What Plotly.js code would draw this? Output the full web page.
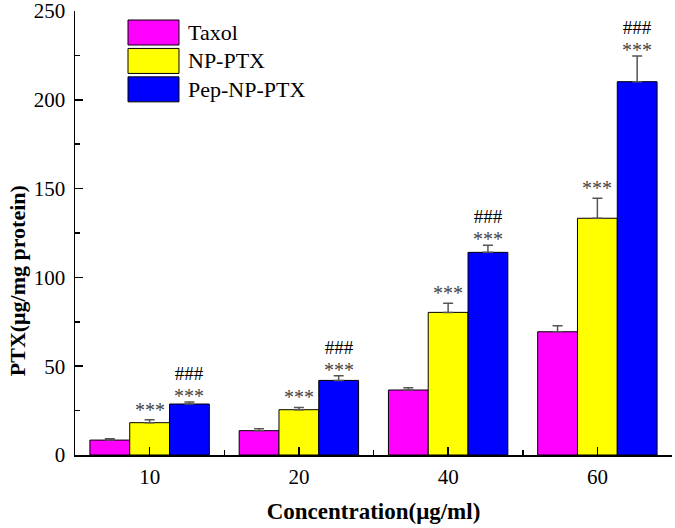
<!DOCTYPE html>
<html>
<head>
<meta charset="utf-8">
<script src="https://cdn.plot.ly/plotly-3.0.1.min.js"></script>
<style>html,body{margin:0;padding:0;background:#fff;}#chart{width:675px;height:528px;}</style>
</head>
<body>
<div id="chart"></div>
<script>
// ---- data ----
const categories = ["10", "20", "40", "60"];
const seriesNames = ["Taxol", "NP-PTX", "Pep-NP-PTX"];
const taxol = [8.4, 13.7, 36.6, 69.4];
const taxolErr = [0.8, 1.1, 1.3, 3.4];
const npPtx = [18.2, 25.5, 80.3, 133.3];
const npPtxErr = [1.7, 1.3, 5.1, 11.2];
const pepNpPtx = [28.7, 42.0, 114.1, 210.2];
const pepNpPtxErr = [1.1, 2.6, 4.0, 14.5];
const npPtxStars = ["***", "***", "***", "***"];
const pepStars = ["***", "***", "***", "***"];
const pepHashes = ["###", "###", "###", "###"];

// ---- styling ----
const FONT = '"Liberation Serif", "Times New Roman", serif';
const colors = ["#FF00FF", "#FFFF00", "#0000FF"];
const values = [taxol, npPtx, pepNpPtx];
const errs = [taxolErr, npPtxErr, pepNpPtxErr];
const xIdx = categories.map((c, i) => i);
const groupWidth = 0.8;
const barW = groupWidth / 3;

const traces = values.map((v, k) => ({
  type: "bar",
  name: seriesNames[k],
  x: xIdx,
  y: v,
  marker: { color: colors[k], line: { color: "#000", width: 1 } },
  error_y: { type: "data", array: errs[k], arrayminus: v.map(() => 0), symmetric: false,
             color: "#555", thickness: 1.5, width: 5 },
  hoverinfo: "skip"
}));

const annotations = [];
function starSpan(s) { return '<span style="font-size:20px;color:#444">' + s + '</span>'; }
function hashSpan(s) { return '<span style="font-size:19px;color:#000">' + s + '</span>'; }
function addMarks(k, hashes, stars, shift) {
  stars.forEach((s, i) => {
    const h = hashes ? hashes[i] : "";
    const text = (h ? hashSpan(h) + "<br>" : "") + starSpan(s);
    annotations.push({
      x: i + (k - 1) * barW, y: values[k][i] + errs[k][i], xref: "x", yref: "y",
      text: text, showarrow: false, yanchor: "bottom", yshift: shift,
      font: { family: FONT, size: 17.5, color: "#000" }
    });
  });
}
addMarks(1, null, npPtxStars, -3);
addMarks(2, pepHashes, pepStars, -7);

// legend drawn as shapes + annotations
const shapes = [];
const legTop = 0.9797, rowH = 0.0640, boxH = 0.0563;
seriesNames.forEach((n, k) => {
  const y1 = legTop - k * rowH;
  shapes.push({ type: "rect", xref: "paper", yref: "paper", x0: 0.0888, x1: 0.1742,
    y0: y1 - boxH, y1: y1, fillcolor: colors[k], line: { color: "#000", width: 1 } });
  annotations.push({ xref: "paper", yref: "paper", x: 0.186, y: y1 - boxH / 2,
    xanchor: "left", yanchor: "middle", showarrow: false, text: n,
    font: { family: FONT, size: 22, color: "#000" } });
});
// y-axis title
annotations.push({ xref: "paper", yref: "paper", x: -0.095, y: 0.392, textangle: -90,
  showarrow: false, xanchor: "center", yanchor: "middle",
  text: "<b>PTX(μg/mg protein)</b>", font: { family: FONT, size: 22, color: "#000" } });

const layout = {
  width: 675, height: 528,
  margin: { l: 75, r: 3, t: 11, b: 73 },
  paper_bgcolor: "#fff", plot_bgcolor: "#fff",
  showlegend: false,
  barmode: "group", bargap: 0.2, bargroupgap: 0,
  font: { family: FONT, color: "#000" },
  xaxis: {
    range: [-0.5, 3.5], tickvals: xIdx, ticktext: categories,
    ticks: "inside", ticklen: 8, tickwidth: 1.5, tickcolor: "#000",
    minor: { tick0: -0.5, dtick: 1, ticks: "inside", ticklen: 5, tickwidth: 1.5, tickcolor: "#000" },
    showline: true, linecolor: "#000", linewidth: 1.5, showgrid: false, zeroline: false,
    tickfont: { family: FONT, size: 21, color: "#000" }, ticklabelstandoff: 2,
    title: { text: "<b>Concentration(μg/ml)</b>", font: { family: FONT, size: 23, color: "#000" }, standoff: 15 }
  },
  yaxis: {
    range: [0, 250], dtick: 50, tick0: 0,
    ticks: "inside", ticklen: 8, tickwidth: 1.5, tickcolor: "#000",
    minor: { dtick: 25, ticks: "inside", ticklen: 5, tickwidth: 1.5, tickcolor: "#000" },
    showline: true, linecolor: "#000", linewidth: 1.5, showgrid: false, zeroline: false,
    tickfont: { family: FONT, size: 21, color: "#000" }, ticklabelstandoff: 4,
    ticklabeloverflow: "allow"
  },
  shapes: shapes,
  annotations: annotations
};

Plotly.newPlot("chart", traces, layout, { displayModeBar: false, staticPlot: true });
</script>
</body>
</html>
